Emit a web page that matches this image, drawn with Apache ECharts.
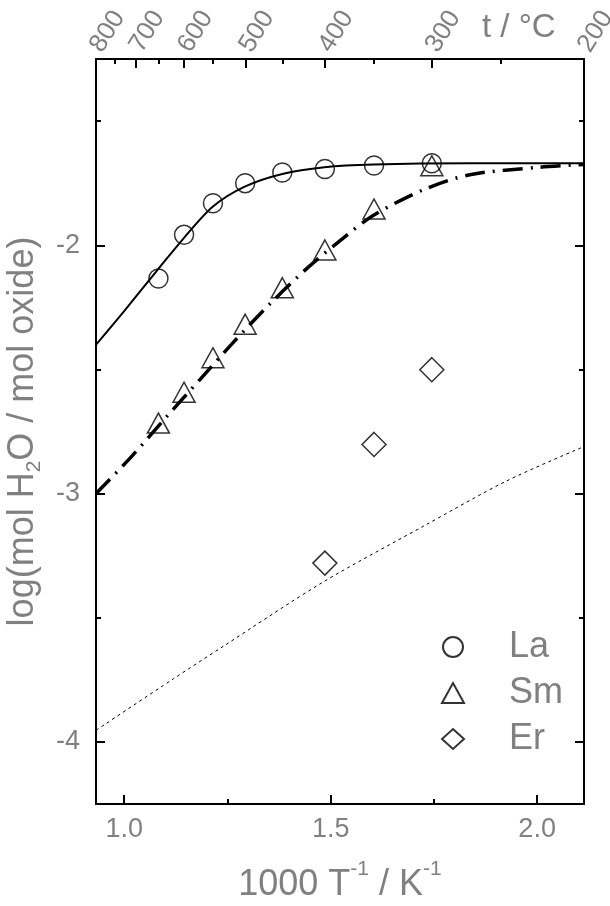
<!DOCTYPE html>
<html><head><meta charset="utf-8">
<script src="https://cdn.jsdelivr.net/npm/echarts@6/dist/echarts.min.js"></script>
<style>html,body{margin:0;padding:0;background:#fff}#c{width:610px;height:906px}</style>
</head><body><div id="c"></div>
<script>
// ---- data ----
const invT_LaSm = [1.083, 1.145, 1.215, 1.293, 1.383, 1.486, 1.605, 1.745];
const logLa = [-2.134, -1.958, -1.831, -1.750, -1.707, -1.693, -1.679, -1.670];
const logSm = [-2.716, -2.592, -2.453, -2.318, -2.171, -2.019, -1.854, -1.680];
const invT_Er = [1.486, 1.605, 1.745];
const logEr = [-3.280, -2.802, -2.501];

const fitLaX = [0.932, 1.000, 1.079, 1.143, 1.215, 1.292, 1.383, 1.485, 1.604, 1.837, 2.113];
const fitLaY = [-2.400, -2.265, -2.103, -1.974, -1.844, -1.764, -1.713, -1.686, -1.675, -1.670, -1.670];
const fitSmX = [0.932, 1.021, 1.103, 1.184, 1.266, 1.353, 1.446, 1.538, 1.604, 1.724, 1.837, 2.006, 2.113];
const fitSmY = [-3.000, -2.845, -2.690, -2.540, -2.388, -2.236, -2.088, -1.961, -1.879, -1.777, -1.716, -1.686, -1.675];
const fitErX = [0.932, 1.119, 1.240, 1.482, 1.724, 1.925, 2.113];
const fitErY = [-3.953, -3.746, -3.615, -3.356, -3.132, -2.950, -2.811];

const bottomTicks = [1.0, 1.5, 2.0];
const bottomMinorTicks = [1.25, 1.75];
const leftTicks = [-4, -3, -2];
const leftMinorTicks = [-3.5, -2.5, -1.5];
const topTempsMajor = [800, 700, 600, 500, 400, 300, 200];
const topTempsMinor = [750, 650, 550, 450, 350, 250];
const seriesNames = ['La', 'Sm', 'Er'];

// ---- chart ----
const FONT = 'Liberation Sans, Arial, sans-serif';
const GRAY = '#808080';
const xMin = 0.9318, xMax = 2.1135, yMin = -4.25, yMax = -1.25;
const toInv = t => 1000 / (t + 273.15);
const pairs = (xs, ys) => xs.map((x, i) => [x, ys[i]]);

function xAx(pos, ticks, len, extra) {
  return Object.assign({
    type: 'value', position: pos, min: xMin, max: xMax,
    axisLine: { show: true, onZero: false, lineStyle: { color: '#000', width: 2 } },
    axisTick: { show: true, inside: true, length: len, customValues: ticks, lineStyle: { color: '#000', width: 2 } },
    axisLabel: { show: false },
    splitLine: { show: false }
  }, extra || {});
}
function yAx(pos, ticks, len, extra) {
  return Object.assign({
    type: 'value', position: pos, min: yMin, max: yMax,
    axisLine: { show: true, onZero: false, lineStyle: { color: '#000', width: 2 } },
    axisTick: { show: true, inside: true, length: len, customValues: ticks, lineStyle: { color: '#000', width: 2 } },
    axisLabel: { show: false },
    splitLine: { show: false }
  }, extra || {});
}

const topMajor = topTempsMajor.map(toInv);
const topMinor = topTempsMinor.map(toInv);

const option = {
  animation: false,
  backgroundColor: '#fff',
  textStyle: { fontFamily: FONT },
  grid: { left: 96, right: 26, top: 59, bottom: 102, containLabel: false, outerBoundsMode: 'none' },
  title: {
    text: 't / \u00B0C', left: 482, top: 11, padding: 0,
    textStyle: { fontFamily: FONT, fontSize: 33, fontWeight: 'normal', color: GRAY }
  },
  legend: {
    data: seriesNames, orient: 'vertical', left: 436, top: 624,
    itemWidth: 22, itemHeight: 20, itemGap: 10,
    textStyle: { fontFamily: FONT, fontSize: 36, color: GRAY, lineHeight: 36, padding: [0, 0, 0, 40] }
  },
  xAxis: [
    xAx('bottom', bottomTicks, 9, {
      axisLabel: {
        show: true, customValues: bottomTicks, margin: 12, fontSize: 27, color: GRAY, fontFamily: FONT,
        formatter: v => Number(v).toFixed(1)
      },
      name: '{a|1000 T}{s|-1}{a| / K}{s|-1}', nameLocation: 'middle', nameGap: 55,
      nameTextStyle: {
        rich: {
          a: { fontFamily: FONT, fontSize: 36, color: GRAY, verticalAlign: 'top', lineHeight: 40, padding: [8, 0, 0, 0] },
          s: { fontFamily: FONT, fontSize: 21, color: GRAY, verticalAlign: 'top', lineHeight: 22, padding: [0, 0, 0, 0] }
        }
      }
    }),
    xAx('bottom', bottomMinorTicks, 5, { axisLine: { show: false } }),
    xAx('top', topMajor, 9, {
      axisLabel: {
        show: true, customValues: topMajor, rotate: -58, margin: 9, fontSize: 26, color: GRAY, fontFamily: FONT,
        formatter: v => String(Math.round(1000 / v - 273.15))
      }
    }),
    xAx('top', topMinor, 5, { axisLine: { show: false } })
  ],
  yAxis: [
    yAx('left', leftTicks, 9, {
      axisLabel: {
        show: true, customValues: leftTicks, margin: 16, fontSize: 27, color: GRAY, fontFamily: FONT,
        formatter: v => String(v)
      },
      name: '{a|log(mol H}{s|2}{a|O / mol oxide)}', nameLocation: 'middle', nameRotate: 90, nameGap: 42,
      nameTextStyle: {
        rich: {
          a: { fontFamily: FONT, fontSize: 36, color: GRAY, verticalAlign: 'top', lineHeight: 40 },
          s: { fontFamily: FONT, fontSize: 21, color: GRAY, verticalAlign: 'top', lineHeight: 22, padding: [19, 0, 0, 0] }
        }
      }
    }),
    yAx('left', leftMinorTicks, 5, { axisLine: { show: false } }),
    yAx('right', leftTicks, 9),
    yAx('right', leftMinorTicks, 5, { axisLine: { show: false } })
  ],
  series: [
    { name: 'fitLa', type: 'line', data: pairs(fitLaX, fitLaY), showSymbol: false, smooth: 0.3, silent: true,
      lineStyle: { color: '#000', width: 2 } },
    { name: 'fitSm', type: 'line', data: pairs(fitSmX, fitSmY), showSymbol: false, smooth: 0.3, silent: true,
      lineStyle: { color: '#000', width: 3.5, type: [20, 8, 2, 8] } },
    { name: 'fitEr', type: 'line', data: pairs(fitErX, fitErY), showSymbol: false, smooth: 0.3, silent: true,
      lineStyle: { color: '#000', width: 1, type: [3, 3.5] } },
    { name: 'La', type: 'scatter', data: pairs(invT_LaSm, logLa), symbol: 'circle', symbolSize: 19,
      itemStyle: { color: 'rgba(255,255,255,0)', borderColor: '#000', borderWidth: 1.5 } },
    { name: 'Sm', type: 'scatter', data: pairs(invT_LaSm, logSm), symbol: 'triangle', symbolSize: [22, 20],
      itemStyle: { color: 'rgba(255,255,255,0)', borderColor: '#000', borderWidth: 1.5 } },
    { name: 'Er', type: 'scatter', data: pairs(invT_Er, logEr), symbol: 'diamond', symbolSize: 24,
      itemStyle: { color: 'rgba(255,255,255,0)', borderColor: '#000', borderWidth: 1.5 } }
  ]
};
const chart = echarts.init(document.getElementById('c'), null, { renderer: 'canvas' });
chart.setOption(option);
</script>
</body></html>
